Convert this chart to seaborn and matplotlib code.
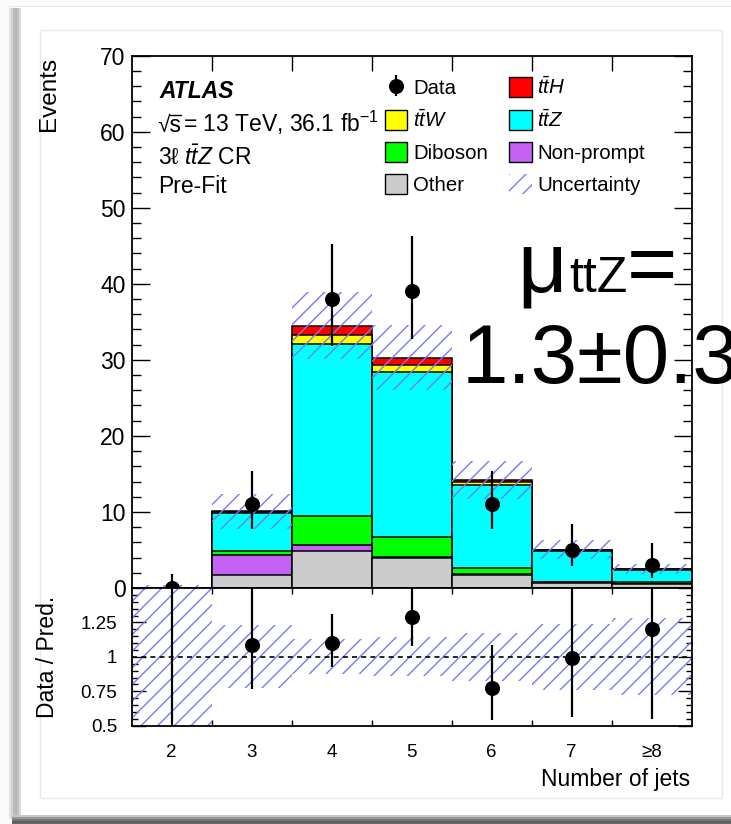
import numpy as np
import pandas as pd
import matplotlib
matplotlib.use("Agg")
import matplotlib.pyplot as plt
import seaborn as sns
from matplotlib.patches import Patch, Rectangle
from matplotlib.lines import Line2D
from matplotlib.ticker import FixedLocator, MultipleLocator, NullFormatter, FixedFormatter

# ---------------------------------------------------------------- data
jet_labels = ["2", "3", "4", "5", "6", "7", "≥8"]
jet_centers = [2, 3, 4, 5, 6, 7, 8]

# pre-fit predictions per process, stacked bottom -> top
other = [0.05, 1.7, 4.8, 4.0, 1.7, 0.7, 0.5]
non_prompt = [0.0, 2.7, 0.87, 0.05, 0.1, 0.05, 0.03]
diboson = [0.0, 0.5, 3.75, 2.7, 0.85, 0.08, 0.2]
ttz = [0.0, 4.95, 22.7, 21.65, 10.85, 4.0, 1.65]
ttw = [0.0, 0.15, 1.2, 0.86, 0.4, 0.12, 0.07]
tth = [0.0, 0.1, 1.15, 1.04, 0.34, 0.1, 0.05]

# total uncertainty on the prediction
pred_unc = [0.3, 2.3, 4.4, 4.3, 2.5, 1.2, 0.7]

# observed events with asymmetric Poisson errors
data = [0, 11, 38, 39, 11, 5, 3]
data_err_lo = [0.0, 3.28, 6.13, 6.21, 3.28, 2.16, 1.63]
data_err_hi = [1.84, 4.42, 7.21, 7.30, 4.42, 3.38, 2.92]

# ---------------------------------------------------------------- style
sns.set_theme(style="ticks")
plt.rcParams["font.family"] = ["Liberation Sans", "DejaVu Sans"]
plt.rcParams.update({
    "mathtext.fontset": "custom",
    "mathtext.rm": "Liberation Sans",
    "mathtext.it": "Liberation Sans:italic",
    "mathtext.bf": "Liberation Sans:bold",
    "hatch.linewidth": 1.0,
    "axes.linewidth": 1.3,
    "axes.edgecolor": "black",
    "text.color": "black",
    "xtick.color": "black",
    "ytick.color": "black",
})

HATCH = "#7a7af2"
processes = [
    ("Other", other, "#cccccc"),
    ("Non-prompt", non_prompt, "#c462f6"),
    ("Diboson", diboson, "#00ff00"),
    (r"$t\bar{t}Z$", ttz, "#00ffff"),
    (r"$t\bar{t}W$", ttw, "#ffff00"),
    (r"$t\bar{t}H$", tth, "#ff0000"),
]

W, H = 731, 824
fig = plt.figure(figsize=(W / 100, H / 100), dpi=100)
fig.patch.set_facecolor("white")


def fx(px):
    return px / W


def fy(py):
    return 1 - py / H


def prect(x0, y0, x1, y1, **kw):
    fig.add_artist(Rectangle((fx(x0), fy(y1)), (x1 - x0) / W, (y1 - y0) / H,
                             transform=fig.transFigure, **kw))


# slide card with its drop shadow
prect(0, 0, W, H, facecolor="#fbfbfb", edgecolor="none", zorder=-10)
prect(9, 6, W + 5, 818, facecolor="white", edgecolor="#e6e6e6", lw=0.8, zorder=-9)
for i, g in enumerate(["#e2e2e2", "#d0d0d0", "#bdbdbd", "#b4b4b4", "#c2c2c2", "#d8d8d8"]):
    prect(9 + 2 * i, 8, 11 + 2 * i, 818, facecolor=g, edgecolor="none", zorder=-8)
for i, g in enumerate(["#c8c8c8", "#9a9a9a", "#767676", "#606060", "#686868"]):
    prect(12, 815 + 2 * i, W + 5, 817 + 2 * i, facecolor=g, edgecolor="none", zorder=-8)
prect(40, 30, 722, 798, facecolor="white", edgecolor="#e9e9e9", lw=1.0, zorder=-7)

# ---------------------------------------------------------------- axes
ax = fig.add_axes([fx(131.7), fy(588), (691.7 - 131.7) / W, (588 - 55.7) / H])
rax = fig.add_axes([fx(131.7), fy(725.7), (691.7 - 131.7) / W, (725.7 - 588) / H])

centers = np.array(jet_centers, dtype=float)
edges = np.append(centers - 0.5, centers[-1] + 0.5)
cum = np.cumsum([np.array(v, dtype=float) for _, v, _ in processes], axis=0)
total = cum[-1]
unc = np.array(pred_unc)

# stacked histogram, painted from the top layer downwards
for i in reversed(range(len(processes))):
    layer = pd.DataFrame({"njets": centers, "events": cum[i]})
    sns.histplot(data=layer, x="njets", weights="events", bins=list(edges), ax=ax,
                 color=processes[i][2], alpha=1, edgecolor="black",
                 linewidth=1.1, legend=False)

ax.bar(centers, 2 * unc, bottom=total - unc, width=1.0, facecolor="none",
       edgecolor=HATCH, hatch="//", linewidth=0, zorder=5)

derr = [data_err_lo, data_err_hi]
dat = ax.errorbar(centers, data, yerr=derr, fmt="o", color="black", ms=9.8,
                  elinewidth=1.6, capsize=0, zorder=10, clip_on=False)

ax.set_xlim(edges[0], edges[-1])
ax.set_ylim(0, 70)
ax.set_xlabel("")
ax.set_ylabel("")
ax.xaxis.set_major_locator(FixedLocator(edges[1:-1]))
ax.xaxis.set_major_formatter(NullFormatter())
ax.yaxis.set_major_locator(MultipleLocator(10))
ax.yaxis.set_minor_locator(MultipleLocator(2))
ax.tick_params(axis="both", which="both", direction="in", top=True, right=True,
               width=1.0)
ax.tick_params(axis="x", which="major", length=10.5, labelbottom=False)
ax.tick_params(axis="y", which="major", length=13, labelsize=16.5, pad=4.5)
ax.tick_params(axis="y", which="minor", length=6.5)

# ---------------------------------------------------------------- ratio panel
rel = unc / total
rax.bar(centers, 2 * rel, bottom=1 - rel, width=1.0, facecolor="none",
        edgecolor=HATCH, hatch="//", linewidth=0, zorder=2)
rax.axhline(1.0, color="black", lw=1.2, ls=(0, (3, 2.5)), zorder=3)
ratio = np.array(data) / total
rerr = [np.array(data_err_lo) / total, np.array(data_err_hi) / total]
rax.errorbar(centers, ratio, yerr=rerr, fmt="o", color="black", ms=9.8,
             elinewidth=1.6, capsize=0, zorder=10)

rax.set_xlim(edges[0], edges[-1])
rax.set_ylim(0.5, 1.5)
rax.set_xlabel("")
rax.set_ylabel("")
rax.xaxis.set_major_locator(FixedLocator(edges[1:-1]))
rax.xaxis.set_major_formatter(NullFormatter())
rax.xaxis.set_minor_locator(FixedLocator(centers))
rax.xaxis.set_minor_formatter(FixedFormatter(jet_labels))
rax.yaxis.set_major_locator(FixedLocator([0.5, 0.75, 1.0, 1.25, 1.5]))
rax.yaxis.set_major_formatter(FixedFormatter(["0.5", "0.75", "1", "1.25", ""]))
rax.yaxis.set_minor_locator(MultipleLocator(0.05))
rax.tick_params(axis="both", which="both", direction="in", top=True, right=True,
                width=1.0)
rax.tick_params(axis="x", which="major", length=4.5)
rax.tick_params(axis="x", which="minor", length=0, labelsize=13.5, pad=13)
rax.tick_params(axis="y", which="major", length=10, labelsize=13.5, pad=10.5)
rax.tick_params(axis="y", which="minor", length=4.5)

# ---------------------------------------------------------------- labels
fig.text(fx(49), fy(57), "Events", rotation=90, ha="center", va="top", fontsize=17.5)
fig.text(fx(47), fy(657), "Data / Pred.", rotation=90, ha="center", va="center",
         fontsize=16.5)
fig.text(fx(690), fy(786), "Number of jets", ha="right", va="baseline", fontsize=16.5)

fig.text(fx(159), fy(98), "ATLAS", fontsize=16.5, fontweight="bold",
         fontstyle="italic", va="baseline")
fig.text(fx(157), fy(131.7), "√s", fontsize=16.5, va="baseline")
fig.add_artist(Line2D([fx(169.5), fx(181)], [fy(114.8), fy(114.8)],
                      transform=fig.transFigure, color="black", lw=1.0))
fig.text(fx(183), fy(131.7), r"= 13 TeV, 36.1 fb$^{\mathrm{-1}}$",
         fontsize=16.5, va="baseline")
fig.text(fx(158), fy(164), r"3ℓ $t\bar{t}Z$ CR", fontsize=16.5, va="baseline")
fig.text(fx(158), fy(193), "Pre-Fit", fontsize=16.5, va="baseline")

# legend: two columns, filled column by column
hdl = {name: Patch(facecolor=c, edgecolor="black", lw=1.0) for name, _, c in processes}
unc_patch = Patch(facecolor="none", edgecolor=HATCH, hatch="//", lw=0)
handles = [dat, hdl[r"$t\bar{t}W$"], hdl["Diboson"], hdl["Other"],
           hdl[r"$t\bar{t}H$"], hdl[r"$t\bar{t}Z$"], hdl["Non-prompt"], unc_patch]
labels = ["Data", r"$t\bar{t}W$", "Diboson", "Other",
          r"$t\bar{t}H$", r"$t\bar{t}Z$", "Non-prompt", "Uncertainty"]
fig.legend(handles, labels, loc="upper left", bbox_to_anchor=(fx(385), fy(76)),
           ncol=2, frameon=False, fontsize=14.7, handlelength=1.1,
           handleheight=1.1, handletextpad=0.27, columnspacing=1.05,
           labelspacing=0.55, borderpad=0, borderaxespad=0)

# fitted signal strength
fig.text(fx(517), fy(291.7), "μ", fontsize=62, va="baseline")
fig.text(fx(569), fy(291.7), "ttZ", fontsize=36, va="baseline")
fig.text(fx(627), fy(291.7), "=", fontsize=62, va="baseline")
fig.text(fx(462), fy(382.7), "1.3±0.3", fontsize=60, va="baseline")

fig.savefig("out.png", dpi=100)
